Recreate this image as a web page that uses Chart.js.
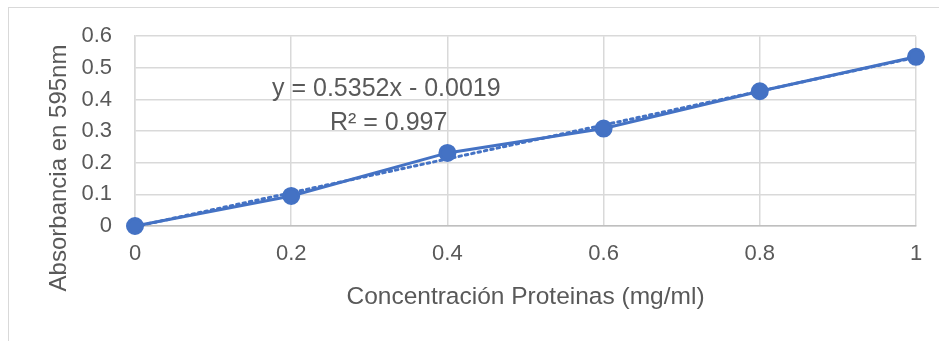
<!DOCTYPE html>
<html>
<head>
<meta charset="utf-8">
<script src="https://cdn.jsdelivr.net/npm/chart.js@4"></script>
<style>
  html, body { margin: 0; padding: 0; background: #fff; }
  #wrap { position: relative; width: 939px; height: 341px; overflow: hidden; }
  #frame { position: absolute; left: 8px; top: 7px; width: 1000px; height: 400px;
           border-left: 1.5px solid #d9d9d9; border-top: 1.5px solid #d9d9d9; }
  canvas { position: absolute; left: 0; top: 0; }
</style>
</head>
<body>
<div id="wrap">
  <div id="frame"></div>
  <canvas id="curve" width="939" height="341"></canvas>
</div>
<script>
// concentración (mg/ml) vs absorbancia a 595 nm
const concentracion = [0, 0.2, 0.4, 0.6, 0.8, 1];
const absorbancia = [0, 0.095, 0.231, 0.308, 0.426, 0.535];

const trendX = [0, 1];
const trendY = [-0.0019, 0.5333];

const xTickLabels = ['0', '0.2', '0.4', '0.6', '0.8', '1'];
const yTickLabels = ['0', '0.1', '0.2', '0.3', '0.4', '0.5', '0.6'];

const eqLines = ['y = 0.5352x - 0.0019', 'R\u00b2 = 0.997'];
const yTitle = 'Absorbancia en 595nm';

const blue = '#4472c4';
const textGray = '#595959';
const fontFam = '"Liberation Sans", Arial, sans-serif';

// ecuación y título del eje Y
const extraText = {
    id: 'extraText',
    afterDraw(chart) {
        const ctx = chart.ctx;
        ctx.save();
        ctx.fillStyle = textGray;
        ctx.font = '25px ' + fontFam;
        ctx.textBaseline = 'alphabetic';
        ctx.textAlign = 'left';
        ctx.fillText(eqLines[0], 272, 96);
        ctx.fillText(eqLines[1], 330, 130);

        ctx.font = '24px ' + fontFam;
        ctx.textAlign = 'center';
        ctx.textBaseline = 'middle';
        ctx.translate(59, 168);
        ctx.rotate(-Math.PI / 2);
        ctx.fillText(yTitle, 0, 0);
        ctx.restore();
    }
};

new Chart(document.getElementById('curve'), {
    type: 'scatter',
    data: {
        datasets: [
            {
                label: 'Absorbancia',
                data: concentracion.map((x, i) => ({ x: x, y: absorbancia[i] })),
                showLine: true,
                borderColor: blue,
                backgroundColor: blue,
                borderWidth: 3,
                pointRadius: 7.5,
                pointHoverRadius: 7.5,
                clip: false,
                order: 0
            },
            {
                label: 'Lineal',
                data: trendX.map((x, i) => ({ x: x, y: trendY[i] })),
                showLine: true,
                borderColor: blue,
                borderWidth: 3,
                borderDash: [2.5, 4],
                borderCapStyle: 'round',
                pointRadius: 0,
                clip: false,
                order: 1
            }
        ]
    },
    options: {
        responsive: false,
        animation: false,
        devicePixelRatio: 1,
        layout: { padding: { top: 36, right: 23, left: 0, bottom: 25.5 } },
        plugins: {
            legend: { display: false },
            tooltip: { enabled: false }
        },
        scales: {
            x: {
                type: 'linear',
                min: 0,
                max: 1,
                ticks: {
                    stepSize: 0.2,
                    color: textGray,
                    font: { family: fontFam, size: 22 },
                    padding: 15,
                    callback: (v, i) => xTickLabels[i]
                },
                grid: { color: '#d9d9d9', lineWidth: 1.5, drawTicks: false },
                border: { color: '#bfbfbf', width: 1.5 },
                title: {
                    display: true,
                    text: 'Concentración Proteinas (mg/ml)',
                    color: textGray,
                    font: { family: fontFam, size: 24.5 },
                    padding: 4
                },
                afterFit(scale) { scale.height = 89.5; }
            },
            y: {
                min: 0,
                max: 0.6,
                ticks: {
                    stepSize: 0.1,
                    color: textGray,
                    font: { family: fontFam, size: 22 },
                    padding: 23,
                    callback: (v, i) => yTickLabels[i]
                },
                grid: { color: '#d9d9d9', lineWidth: 1.5, drawTicks: false },
                border: { color: '#d9d9d9', width: 1.5 },
                afterFit(scale) { scale.width = 135; }
            }
        }
    },
    plugins: [extraText]
});
</script>
</body>
</html>
